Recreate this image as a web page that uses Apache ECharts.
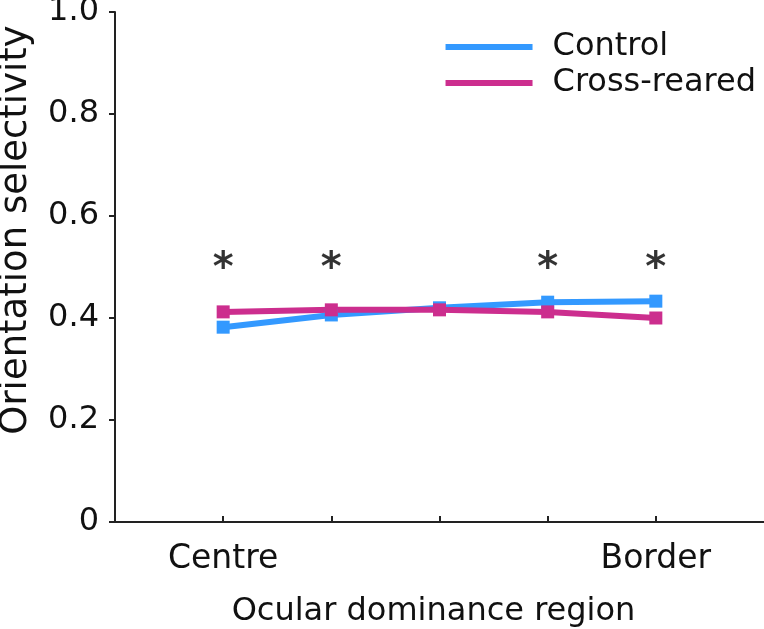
<!DOCTYPE html>
<html>
<head>
<meta charset="utf-8">
<script src="https://cdn.jsdelivr.net/npm/echarts@6/dist/echarts.min.js"></script>
<style>
  html, body { margin: 0; padding: 0; background: #fff; }
  #chart { width: 764px; height: 629px; }
</style>
</head>
<body>
<div id="chart"></div>
<script>
// region positions along the centre -> border axis
const regions = [1, 2, 3, 4, 5]
const regionLabels = { 1: 'Centre', 5: 'Border' }

const controlData = [0.382, 0.406, 0.420, 0.431, 0.433]
const crossData = [0.412, 0.416, 0.416, 0.412, 0.400]

// regions marked significant
const starRegions = [1, 2, 4, 5]
const starLevel = 0.508

const yTicks = [0, 0.2, 0.4, 0.6, 0.8, 1.0]

const font = 'DejaVu Sans'
const axisColor = '#222'
const textColor = '#111'

const chart = echarts.init(document.getElementById('chart'))

chart.setOption({
  animation: false,
  backgroundColor: '#fff',
  textStyle: { fontFamily: font },
  // keep the plot box fixed, labels may run to the edges
  grid: { left: 115, right: 0, top: 12, bottom: 107, outerBoundsMode: 'none' },
  legend: {
    right: 3,
    top: 26,
    orient: 'vertical',
    align: 'left',
    itemWidth: 87,
    itemHeight: 6,
    itemGap: 4,
    icon: 'rect',
    textStyle: { fontFamily: font, fontSize: 32, color: textColor, padding: [0, 0, 0, 15] },
    data: ['Control', 'Cross-reared']
  },
  xAxis: {
    type: 'value',
    min: 0,
    max: 6,
    interval: 1,
    name: 'Ocular dominance region',
    nameLocation: 'middle',
    nameGap: 74,
    nameTextStyle: { fontFamily: font, fontSize: 32, color: textColor, padding: [0, 12, 0, 0] },
    axisLine: { lineStyle: { color: axisColor, width: 2 } },
    axisTick: { inside: true, length: 6, lineStyle: { color: axisColor, width: 2 }, customValues: regions },
    axisLabel: {
      customValues: [1, 5],
      formatter: v => regionLabels[v] || '',
      margin: 21,
      fontFamily: font,
      fontSize: 33,
      color: textColor
    },
    splitLine: { show: false }
  },
  yAxis: {
    type: 'value',
    min: 0,
    max: 1,
    interval: 0.2,
    name: 'Orientation selectivity',
    nameLocation: 'middle',
    nameGap: 80,
    // title sits above the axis middle in the original
    nameTextStyle: { fontFamily: font, fontSize: 37, color: textColor, padding: [0, 0, 0, 74] },
    axisLine: { show: true, lineStyle: { color: axisColor, width: 2 } },
    axisTick: { show: true, length: 6, lineStyle: { color: axisColor, width: 2 } },
    axisLabel: {
      customValues: yTicks,
      formatter: v => (v === 0 ? '0' : v.toFixed(1)),
      margin: 16,
      fontFamily: font,
      fontSize: 32,
      color: textColor
    },
    splitLine: { show: false }
  },
  series: [
    {
      name: 'Control',
      type: 'line',
      data: regions.map((r, i) => [r, controlData[i]]),
      color: '#3399ff',
      lineStyle: { width: 6 },
      symbol: 'rect',
      symbolSize: 13,
      itemStyle: { color: '#3399ff' }
    },
    {
      name: 'Cross-reared',
      type: 'line',
      data: regions.map((r, i) => [r, crossData[i]]),
      color: '#cc2e8e',
      lineStyle: { width: 6 },
      symbol: 'rect',
      symbolSize: 13,
      itemStyle: { color: '#cc2e8e' }
    },
    {
      name: 'stars',
      type: 'scatter',
      data: starRegions.map(r => [r, starLevel]),
      symbolSize: 0,
      silent: true,
      label: {
        show: true,
        position: 'inside',
        formatter: '*',
        fontFamily: font,
        fontSize: 40,
        fontWeight: 'bold',
        color: '#000',
        offset: [0, 7]
      }
    }
  ]
})
</script>
</body>
</html>
